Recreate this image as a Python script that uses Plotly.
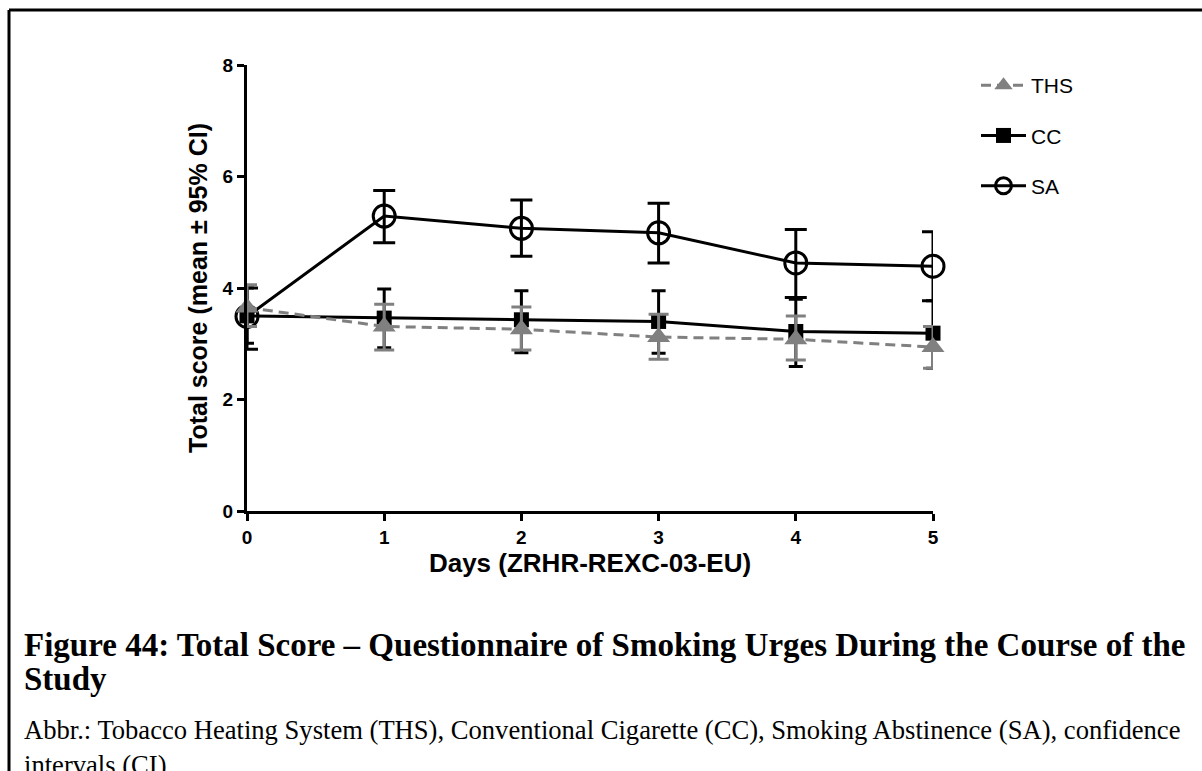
import plotly.graph_objects as go

days = [0, 1, 2, 3, 4, 5]

ths_mean = [3.65, 3.31, 3.26, 3.12, 3.08, 2.94]
ths_upper = [4.06, 3.71, 3.66, 3.53, 3.50, 3.31]
ths_lower = [3.31, 2.89, 2.89, 2.72, 2.71, 2.56]

cc_mean = [3.50, 3.46, 3.43, 3.40, 3.22, 3.19]
cc_upper = [4.00, 3.98, 3.95, 3.95, 3.80, 3.77]
cc_lower = [3.01, 2.93, 2.84, 2.83, 2.59, 2.56]

sa_mean = [3.49, 5.29, 5.07, 4.99, 4.45, 4.39]
sa_upper = [4.00, 5.75, 5.58, 5.52, 5.05, 5.01]
sa_lower = [2.90, 4.81, 4.57, 4.45, 3.83, 3.77]

x_ticks = [0, 1, 2, 3, 4, 5]
y_ticks = [0, 2, 4, 6, 8]

x_title = "Days (ZRHR-REXC-03-EU)"
y_title = "Total score (mean \u00b1 95% CI)"
caption_line1 = "Figure 44: Total Score \u2013 Questionnaire of Smoking Urges During the Course of the"
caption_line2 = "Study"
abbr_line1 = "Abbr.: Tobacco Heating System (THS), Conventional Cigarette (CC), Smoking Abstinence (SA), confidence"
abbr_line2 = "intervals (CI)"

GRAY = "#808080"

def err(mean, upper, lower):
    return dict(type="data", symmetric=False,
                array=[u - m for u, m in zip(upper, mean)],
                arrayminus=[m - l for m, l in zip(mean, lower)])

fig = go.Figure()

e_cc = err(cc_mean, cc_upper, cc_lower)
e_cc.update(color="black", thickness=3, width=7)
fig.add_trace(go.Scatter(x=days, y=cc_mean, name="CC", mode="lines+markers",
                         line=dict(color="black", width=3),
                         marker=dict(symbol="square", size=15, color="black"),
                         error_y=e_cc, cliponaxis=False, legendrank=2,
                         legendgroup="cc"))

e_sa = err(sa_mean, sa_upper, sa_lower)
e_sa.update(color="black", thickness=3, width=11)
fig.add_trace(go.Scatter(x=days, y=sa_mean, name="SA", mode="lines+markers",
                         line=dict(color="black", width=3),
                         marker=dict(symbol="circle-open", size=22, color="black",
                                     line=dict(width=3, color="black")),
                         error_y=e_sa, cliponaxis=False, legendrank=3,
                         legendgroup="sa"))

e_ths = err(ths_mean, ths_upper, ths_lower)
e_ths.update(color=GRAY, thickness=3, width=10)
fig.add_trace(go.Scatter(x=days, y=ths_mean, name="THS", mode="lines+markers",
                         line=dict(color=GRAY, width=3, dash="10px,6px"),
                         marker=dict(symbol="triangle-up", size=20, color=GRAY),
                         error_y=e_ths, cliponaxis=False, legendrank=1,
                         legendgroup="ths"))

W, H = 1202, 771
L, R, T, B = 247, 933, 65, 511

def px_x(p):
    return (p - L) / (R - L)

def px_y(p):
    return (B - p) / (B - T)

axis_common = dict(showline=True, linewidth=3, linecolor="black", ticks="outside",
                   ticklen=7, tickwidth=3, tickcolor="black", showgrid=False,
                   zeroline=False, mirror=False,
                   tickfont=dict(family="Liberation Sans, Arial", size=19,
                                 color="black", weight="bold"))

fig.update_layout(
    width=W, height=H,
    margin=dict(l=L, r=W - R, t=T, b=H - B),
    paper_bgcolor="white", plot_bgcolor="white",
    xaxis=dict(range=[0, 5], tickvals=x_ticks,
               title=dict(text=x_title, standoff=8,
                          font=dict(family="Liberation Sans, Arial", size=26,
                                    color="black", weight="bold")),
               **axis_common),
    yaxis=dict(range=[0, 8], tickvals=y_ticks,
               title=dict(text=y_title, standoff=8,
                          font=dict(family="Liberation Sans, Arial", size=25,
                                    color="black", weight="bold")),
               **axis_common),
    legend=dict(x=px_x(976), y=px_y(65), xanchor="left", yanchor="top",
                font=dict(family="Liberation Sans, Arial", size=21, color="black"),
                tracegroupgap=20, bgcolor="rgba(0,0,0,0)", itemwidth=45),
    showlegend=True,
)

cap_font_b = dict(family="Liberation Serif, Times New Roman", size=33, color="black", weight="bold")
cap_font_r = dict(family="Liberation Serif, Times New Roman", size=26.6, color="black")

for text, yc in [(caption_line1, 645), (caption_line2, 679)]:
    fig.add_annotation(text=text, xref="paper", yref="paper", x=px_x(22), y=px_y(yc),
                       xanchor="left", yanchor="middle", showarrow=False,
                       font=cap_font_b, align="left")
fig.add_annotation(text=abbr_line1 + "<br>" + abbr_line2, xref="paper", yref="paper",
                   x=px_x(22), y=px_y(748), xanchor="left", yanchor="middle",
                   showarrow=False, font=cap_font_r, align="left")

# outer frame (top and left edges)
fig.add_shape(type="line", xref="paper", yref="paper",
              x0=px_x(9), y0=px_y(10), x1=px_x(1215), y1=px_y(10),
              line=dict(color="black", width=3))
fig.add_shape(type="line", xref="paper", yref="paper",
              x0=px_x(9), y0=px_y(10), x1=px_x(9), y1=px_y(790),
              line=dict(color="black", width=3))

fig.write_html("out.html", config={"displayModeBar": False},
               post_script="document.body.style.margin='0';document.body.style.overflow='hidden';")
